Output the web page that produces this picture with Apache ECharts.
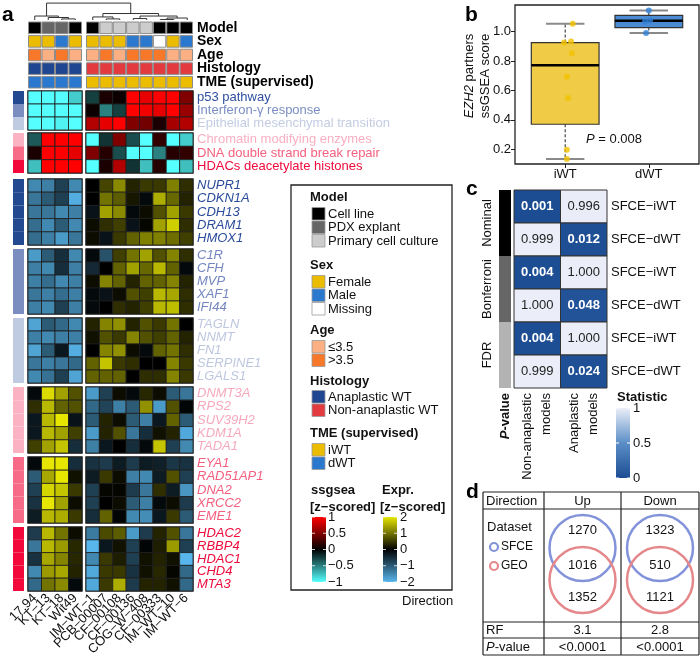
<!DOCTYPE html>
<html>
<head>
<meta charset="utf-8">
<script src="https://cdn.jsdelivr.net/npm/echarts@6.0.0/dist/echarts.min.js"></script>
<style>html,body{margin:0;padding:0;background:#fff;}#chart{width:700px;height:671px;}</style>
</head>
<body>
<div id="chart"></div>
<script>
const FONT = '"Liberation Sans", Arial, Helvetica, sans-serif';

/* ================= Panel a data ================= */
const leftSamples = ['17.94','KT−13','KT−18','Wit49'];
const rightSamples = ['IM−WT−1','PCB−00007','CF−00108','CF−00136','COG−W−408','CF−00333','IM−WT−10','IM−WT−6'];
const annoTracks = ['Model','Sex','Age','Histology','TME (supervised)'];
const modelLeft = ['Cell line','PDX explant','PDX explant','Cell line'];
const modelRight = ['Cell line','Primary cell culture','Primary cell culture','Primary cell culture','Primary cell culture','Cell line','Cell line','Cell line'];
const sexLeft = ['Female','Female','Male','Female'];
const sexRight = ['Female','Female','Female','Male','Male','Missing','Female','Male'];
const ageLeft = ['>3.5','≤3.5','>3.5','≤3.5'];
const ageRight = ['≤3.5','>3.5','≤3.5','>3.5','>3.5','>3.5','≤3.5','≤3.5'];
const histLeft = ['Anaplastic WT','Anaplastic WT','Anaplastic WT','Anaplastic WT'];
const histRight = ['Non-anaplastic WT','Non-anaplastic WT','Non-anaplastic WT','Non-anaplastic WT','Non-anaplastic WT','Non-anaplastic WT','Non-anaplastic WT','Non-anaplastic WT'];
const tmeLeft = ['dWT','dWT','dWT','dWT'];
const tmeRight = ['iWT','iWT','iWT','iWT','iWT','iWT','iWT','iWT'];

const pathwaysA = ['p53 pathway','Interferon-γ response','Epithelial mesenchymal transition'];
const pathwaysALeft = [[-1,-1,-1,-0.8],[-1,-1,-1,-1],[-1,-1,-0.95,-1]];
const pathwaysARight = [[-0.25,0.1,0.05,1,0.9,1,1,0.5],[0.05,-0.5,-0.25,1,0.95,0.9,1,0.6],[0.7,0.9,1,0.5,0.45,0.1,0.65,0.7]];
const pathwaysB = ['Chromatin modifying enzymes','DNA double strand break repair','HDACs deacetylate histones'];
const pathwaysBLeft = [[-0.35,1,1,1],[0.1,1,1,0.9],[-0.75,1,1,1]];
const pathwaysBRight = [[-1,-0.2,0.5,-0.3,-1,0.2,-1,-0.8],[0.5,0.15,-0.3,-1,-1,-0.5,0.15,0.2],[-1,0.1,0.7,-0.2,-0.75,0.15,-1,-0.75]];

const genes1 = ['NUPR1','CDKN1A','CDH13','DRAM1','HMOX1'];
const genes1Left = [[-1.5,-1.4,-0.7,-1.5],[-1.3,-1.0,-0.7,-1.9],[-1.3,-1.3,-1.5,-1.4],[-1.2,-1.5,-1.0,-1.5],[-1.2,-1.4,-1.7,-1.3]];
const genes1Right = [[0,0.6,1.2,0.3,0.5,0.5,1.1,0.4],[0,1.0,0.8,0.2,-0.1,1.5,0.9,0.3],[-0.2,1.4,1.2,-0.1,0.1,0.7,1.4,0.5],[0.1,0.4,0.55,-0.2,0.05,1.4,1.8,0.4],[0.1,-0.2,0.5,0.85,1.1,1.1,0.95,0.55]];
const genes2 = ['C1R','CFH','MVP','XAF1','IFI44'];
const genes2Left = [[-1.7,-1.0,-0.5,-1.5],[-1.4,-1.5,-0.5,-1.4],[-1.4,-1.2,-1.5,-1.4],[-1.3,-1.4,-1.2,-1.4],[-1.4,-1.5,-0.7,-1.4]];
const genes2Right = [[-0.1,-0.9,0.55,1.0,1.4,0.7,1.15,0.4],[-0.45,0,0.85,1.4,0.9,1.6,0.85,-0.1],[0.1,1.15,0.85,0.3,0.85,0.85,1.15,0.3],[-0.1,-0.2,0.1,0.7,0.55,1.6,1.45,0.4],[-0.1,0,0.4,0.3,0.55,1.6,1.65,0.4]];
const genes3 = ['TAGLN','NNMT','FN1','SERPINE1','LGALS1'];
const genes3Left = [[-1.8,-1.0,-1.15,-1.5],[-1.4,-1.5,-1.4,-1.4],[-1.8,-1.0,-0.25,-1.9],[-1.3,-1.4,-1.3,-1.15],[-1.5,-1.25,-0.7,-1.8]];
const genes3Right = [[0.3,1.15,1.25,0.3,0.7,0.5,1.0,0],[0.15,0.7,0.5,1.15,0.7,0.55,0.85,0.3],[0,1.15,1.25,0.1,-0.1,0.85,1.0,0.4],[0.85,1.7,0.5,0.4,0,0,1.15,0.5],[0.85,0.85,0.85,0,0.4,0.4,1.15,0.5]];
const genes4 = ['DNMT3A','RPS2','SUV39H2','KDM1A','TADA1'];
const genes4Left = [[-0.1,1.9,1.4,0.7],[0.4,1.6,0.85,0.7],[-0.25,1.6,2.0,-0.2],[-0.25,1.6,1.4,0.55],[0.55,1.4,1.7,-0.5]];
const genes4Right = [[-1.7,-0.7,0.1,-0.1,0.35,0.1,-1.0,-1.3],[-1.15,-0.75,-1.4,-1.0,1.25,-1.7,0.7,-0.05],[-1.0,0.3,0.1,-1.0,-1.4,-0.25,0.85,-1.0],[-1.7,0.3,0.7,-1.3,-0.5,0.15,0.3,-1.85],[-1.4,-0.25,0,-0.5,-0.1,1.7,-0.7,-1.5]];
const genes5 = ['EYA1','RAD51AP1','DNA2','XRCC2','EME1'];
const genes5Left = [[-0.1,2.0,2.0,-0.5],[-1.0,1.45,2.0,0.15],[-0.7,1.85,1.7,0.5],[-0.55,2.0,1.4,0.1],[-0.3,1.6,1.5,0.5]];
const genes5Right = [[-0.55,-0.65,-0.3,-0.65,-0.3,-0.35,-0.6,-0.55],[-0.3,0.5,0.1,-1.4,-1.5,-0.3,0.7,-0.7],[-0.7,0.05,0.05,-0.65,-1.3,0.4,-0.3,-1.65],[-0.7,0,0.1,-1.0,-1.4,-0.1,0.1,-0.65],[-0.5,0.85,-0.05,-1.5,-1.55,-0.25,0.5,-1.0]];
const genes6 = ['HDAC2','RBBP4','HDAC1','CHD4','MTA3'];
const genes6Left = [[-0.65,1.6,1.0,0.1],[-1.3,1.6,1.35,0.35],[-0.55,1.45,1.15,0.35],[-1.5,1.35,1.45,0.3],[-1.15,1.0,1.2,-0.1]];
const genes6Right = [[-1.35,0.65,0.8,-1.7,-0.65,0.3,0.7,-1.3],[-2.0,-0.25,0.15,-0.7,-0.05,0.25,1.35,-0.7],[-1.5,0.5,0.25,-0.7,0.15,0.3,0.15,-2.0],[-1.85,0.5,0.5,-0.55,0.15,0.35,0.05,-1.15],[-1.85,0.5,1.5,-0.65,0.3,0.3,0.15,-1.15]];

// hierarchical clustering of columns: [childA, childB, height]; negative = leaf (1-based), positive = earlier merge (1-based)
const dendroMerges = [[-3,-4,0.06],[-2,1,0.14],[-1,2,0.22],[-6,-7,0.06],[-5,4,0.17],[-8,-9,0.08],[-10,-11,0.03],[7,-12,0.11],[6,8,0.22],[5,9,0.36],[3,10,0.94]];

const ssTicks = [1, 0.5, 0, -0.5, -1];
const exTicks = [2, 1, 0, -1, -2];

/* ================= Panel b data ================= */
const tmeGroups = ['iWT','dWT'];
const iwtScores = [1.052,0.925,0.932,0.853,0.692,0.549,0.197,0.134];
const iwtJitter = [1.09,0.986,1.07,1.08,1.02,1.034,1.02,1.02];
const dwtScores = [1.143,1.068,1.075,0.989];
const dwtJitter = [2.0,1.955,2.015,1.967];
const boxStats = [[0.134,0.37,0.771,0.925,1.052],[0.989,1.027,1.073,1.109,1.143]];
const bTicks = [0.2,0.4,0.6,0.8,1.0];
const pText = '0.008';

/* ================= Panel c data ================= */
const cCols = ['Non-anaplastic\nmodels','Anaplastic\nmodels'];
const cMethods = ['Nominal','Bonferroni','FDR'];
const cComparisons = ['SFCE−iWT','SFCE−dWT'];
const cPvals = [[0.001,0.996],[0.999,0.012],[0.004,1.000],[1.000,0.048],[0.004,1.000],[0.999,0.024]];
const statTicks = [1, 0.5, 0];

/* ================= Panel d data ================= */
const dDirections = ['Up','Down'];
const dDatasets = ['SFCE','GEO'];
const vennCounts = [[1270,1016,1352],[1323,510,1121]];
const rfValues = ['3.1','2.8'];
const dPvalues = ['<0.0001','<0.0001'];

/* ================= helpers ================= */
function hex(c){ return [1,3,5].map(i => parseInt(c.substr(i,2),16)); }
function lerp(stops, v){
  if (v <= stops[0][0]) return stops[0][1];
  const n = stops.length;
  if (v >= stops[n-1][0]) return stops[n-1][1];
  for (let i=0;i<n-1;i++){
    const a=stops[i][0], b=stops[i+1][0];
    if (v>=a && v<=b){
      const t=(v-a)/(b-a), pa=hex(stops[i][1]), pb=hex(stops[i+1][1]);
      return 'rgb(' + pa.map((x,k)=>Math.round(x+(pb[k]-x)*t)).join(',') + ')';
    }
  }
  return stops[0][1];
}
const ssStops = [[-1,'#55FFFF'],[0,'#000000'],[1,'#FF0000']];
const exStops = [[-2,'#58B6EC'],[0,'#000000'],[2,'#E6E600']];
const stStops = [[0,'#1C4D93'],[0.5,'#5B8EC7'],[1,'#EBEEF8']];
const annoColors = {
  'Cell line':'#000000','PDX explant':'#666666','Primary cell culture':'#CCCCCC',
  'Female':'#EBBC00','Male':'#2B78CF','Missing':'#FFFFFF',
  '≤3.5':'#FBB083','>3.5':'#F8782A',
  'Anaplastic WT':'#1F4690','Non-anaplastic WT':'#E23A3F',
  'iWT':'#EBBC00','dWT':'#2B78CF'
};

function txt(x, y, text, st, align, rot){
  align = align || 'left';
  return {type:'text', x:x, y:y, rotation: rot || 0, z:50,
    style: Object.assign({text:text, fill:'#111', fontFamily:FONT, fontSize:13, align:align, textAlign:align, verticalAlign:'middle', textVerticalAlign:'middle'}, st || {})};
}

const option = {animation:false, backgroundColor:'#fff', textStyle:{fontFamily:FONT}, grid:[], xAxis:[], yAxis:[], series:[], graphic:{elements:[]}};
const G = option.graphic.elements;
function addGrid(g, xa, ya){
  option.grid.push(Object.assign({containLabel:false, outerBoundsMode:'none'}, g));
  const gi = option.grid.length - 1;
  option.xAxis.push(Object.assign({gridIndex:gi}, xa));
  option.yAxis.push(Object.assign({gridIndex:gi}, ya));
  return gi;
}
const noAxis = {axisLine:{show:false}, axisTick:{show:false}, axisLabel:{show:false}, splitLine:{show:false}};

/* ================= Panel a layout ================= */
const COLL = {left:28, width:54}, COLR = {left:86, width:107};
const blocks = [
  {kind:'anno', top:21, height:68, rows:annoTracks, left:[modelLeft,sexLeft,ageLeft,histLeft,tmeLeft], right:[modelRight,sexRight,ageRight,histRight,tmeRight]},
  {kind:'ss', top:91, height:39, rows:pathwaysA, left:pathwaysALeft, right:pathwaysARight, labelColors:['#2F4F9F','#7A8DC4','#C3CCE2'], barColors:['#234A91','#7B8EBF','#BFCBE1']},
  {kind:'ss', top:133, height:40, rows:pathwaysB, left:pathwaysBLeft, right:pathwaysBRight, labelColors:['#F9AFC1','#F4607F','#EE0A3B'], barColors:['#FBB3C4','#F76B88','#F2083B']},
  {kind:'gene', top:179, height:66, rows:genes1, left:genes1Left, right:genes1Right, labelColor:'#2A4B9B', barColor:'#234A91'},
  {kind:'gene', top:249, height:65, rows:genes2, left:genes2Left, right:genes2Right, labelColor:'#7386BF', barColor:'#7B8EBF'},
  {kind:'gene', top:318, height:65, rows:genes3, left:genes3Left, right:genes3Right, labelColor:'#BDC7DF', barColor:'#BFCBE1'},
  {kind:'gene', top:387, height:66, rows:genes4, left:genes4Left, right:genes4Right, labelColor:'#F6A9BD', barColor:'#FBB3C4'},
  {kind:'gene', top:457, height:66, rows:genes5, left:genes5Left, right:genes5Right, labelColor:'#F45E7F', barColor:'#F76B88'},
  {kind:'gene', top:527, height:64, rows:genes6, left:genes6Left, right:genes6Right, labelColor:'#EE0A3B', barColor:'#F2083B'}
];

blocks.forEach((b, bi) => {
  const last = bi === blocks.length - 1;
  [['L', COLL, leftSamples], ['R', COLR, rightSamples]].forEach(([side, pos, samples]) => {
    const xa = {type:'category', data:samples, axisLine:{show:false}, axisTick:{show:false}, splitLine:{show:false},
      axisLabel: last ? {show:true, rotate:45, interval:0, fontSize:13, color:'#111', margin:5, fontFamily:FONT} : {show:false}};
    const ya = {type:'category', data:b.rows, inverse:true, axisLine:{show:false}, axisTick:{show:false}, splitLine:{show:false}, axisLabel:{show:false}};
    if (side === 'R') {
      ya.position = 'right';
      ya.axisLabel = {show:true, margin:4, interval:0, fontFamily:FONT,
        fontSize: b.kind === 'anno' ? 14 : 13,
        fontWeight: b.kind === 'anno' ? 'bold' : 'normal',
        fontStyle: b.kind === 'gene' ? 'italic' : 'normal',
        color: b.kind === 'anno' ? '#000' : (b.kind === 'ss' ? (v => b.labelColors[b.rows.indexOf(v)]) : b.labelColor)};
    }
    const gi = addGrid({left:pos.left, width:pos.width, top:b.top, height:b.height, show: b.kind !== 'anno', borderColor:'#3a3a3a', borderWidth:1.5}, xa, ya);
    const mat = side === 'L' ? b.left : b.right;
    if (b.kind === 'anno') {
      const data = [], cols = [];
      mat.forEach((row, r) => row.forEach((v, c) => { data.push([c, r]); cols.push(annoColors[v]); }));
      option.series.push({type:'custom', xAxisIndex:gi, yAxisIndex:gi, clip:false, data:data,
        renderItem:(p, api) => {
          const c = api.coord([api.value(0), api.value(1)]), s = api.size([1,1]);
          return {type:'rect', shape:{x:c[0]-s[0]/2+0.5, y:c[1]-s[1]/2+1, width:s[0]-1, height:s[1]-2}, style:{fill:cols[p.dataIndex], stroke:'#8c8c8c', lineWidth:1}};
        }});
    } else {
      const stops = b.kind === 'ss' ? ssStops : exStops;
      const data = [];
      mat.forEach((row, r) => row.forEach((v, c) => data.push([c, r, v])));
      option.series.push({type:'custom', xAxisIndex:gi, yAxisIndex:gi, clip:false, data:data,
        renderItem:(p, api) => {
          const c = api.coord([api.value(0), api.value(1)]), s = api.size([1,1]);
          return {type:'rect', shape:{x:c[0]-s[0]/2, y:c[1]-s[1]/2, width:s[0], height:s[1]}, style:{fill:lerp(stops, api.value(2)), stroke:'#1c1c1c', lineWidth:0.8}};
        }});
      if (side === 'L') {
        const bc = b.kind === 'ss' ? b.barColors : b.rows.map(() => b.barColor);
        option.series.push({type:'custom', xAxisIndex:gi, yAxisIndex:gi, clip:false, data:b.rows.map((_, r) => [0, r]),
          renderItem:(p, api) => {
            const c = api.coord([0, api.value(1)]), s = api.size([1,1]);
            return {type:'rect', shape:{x:c[0]-s[0]/2-15, y:c[1]-s[1]/2, width:11, height:s[1]}, style:{fill:bc[p.dataIndex]}};
          }});
      }
    }
  });
});

/* dendrogram */
const colUnit = COLL.width / leftSamples.length;
const gapUnits = (COLR.left - COLL.left - COLL.width) / colUnit;
const dgWidth = COLR.left + COLR.width - COLL.left;
function leafX(k){ const nL = leftSamples.length; return k <= nL ? k - 0.5 : nL + gapUnits + (k - nL) - 0.5; }
const nodeX = [], nodeH = [], segs = [];
function childPos(id){ return id < 0 ? [leafX(-id), 0] : [nodeX[id-1], nodeH[id-1]]; }
dendroMerges.forEach(([a, b, h], i) => {
  const [xa, ha] = childPos(a), [xb, hb] = childPos(b);
  segs.push([xa, ha, xa, h], [xb, hb, xb, h], [xa, h, xb, h]);
  nodeX[i] = (xa + xb) / 2; nodeH[i] = h;
});
const dg = addGrid({left:COLL.left, top:2, width:dgWidth, height:18},
  Object.assign({type:'value', min:0, max:dgWidth/colUnit}, noAxis), Object.assign({type:'value', min:0, max:1}, noAxis));
option.series.push({type:'custom', xAxisIndex:dg, yAxisIndex:dg, clip:false, data:segs,
  renderItem:(p, api) => {
    const a = api.coord([api.value(0), api.value(1)]), b = api.coord([api.value(2), api.value(3)]);
    return {type:'line', shape:{x1:a[0], y1:a[1], x2:b[0], y2:b[1]}, style:{stroke:'#333', lineWidth:1}};
  }});

/* legend box (panel a) */
G.push({type:'rect', z:40, shape:{x:291, y:185, width:161, height:405}, style:{fill:'none', stroke:'#222', lineWidth:1.3}});
const legendGroups = [
  {title:'Model', items:['Cell line','PDX explant','Primary cell culture'], ty:197, iy:214},
  {title:'Sex', items:['Female','Male','Missing'], ty:265, iy:282},
  {title:'Age', items:['≤3.5','>3.5'], ty:330, iy:347},
  {title:'Histology', items:['Anaplastic WT','Non-anaplastic WT'], ty:381, iy:397},
  {title:'TME (supervised)', items:['iWT','dWT'], ty:433, iy:450}
];
legendGroups.forEach(gr => {
  G.push(txt(310, gr.ty, gr.title, {fontWeight:'bold', fontSize:13}));
  gr.items.forEach((it, k) => {
    const y = gr.iy + k * 13.5;
    G.push({type:'rect', z:40, shape:{x:312, y:y-6.5, width:13, height:12.5}, style:{fill:annoColors[it], stroke:'#9a9a9a', lineWidth:0.8}});
    G.push(txt(328, y, it, {fontSize:13}));
  });
});
function colorbar(x, y, w, h, colors, ticks, labelX){
  G.push({type:'rect', z:40, shape:{x:x, y:y, width:w, height:h},
    style:{fill:new echarts.graphic.LinearGradient(0,0,0,1, colors.map((c,i)=>({offset:i/(colors.length-1), color:c})))}});
  const tmax = ticks[0], tmin = ticks[ticks.length-1];
  ticks.forEach(t => {
    const ty = y + h * (tmax - t) / (tmax - tmin);
    G.push({type:'line', z:41, shape:{x1:x, y1:ty, x2:x+3, y2:ty}, style:{stroke:'#fff', lineWidth:1, opacity:0.8}});
    G.push({type:'line', z:41, shape:{x1:x+w-3, y1:ty, x2:x+w, y2:ty}, style:{stroke:'#fff', lineWidth:1, opacity:0.8}});
    G.push(txt(labelX, ty, String(t).replace('-', '−'), {fontSize:13}));
  });
}
G.push(txt(311, 490, 'ssgsea', {fontWeight:'bold', fontSize:13}));
G.push(txt(310, 507, '[z−scored]', {fontWeight:'bold', fontSize:13}));
G.push(txt(382, 490, 'Expr.', {fontWeight:'bold', fontSize:13}));
G.push(txt(380, 507, '[z−scored]', {fontWeight:'bold', fontSize:13}));
colorbar(312, 517, 14, 65, ['#FF0000','#000000','#55FFFF'], ssTicks, 328);
colorbar(383, 517, 14, 65, ['#E6E600','#000000','#58B6EC'], exTicks, 400);
G.push(txt(402, 601, 'Direction', {fontSize:13}));

/* panel letters */
G.push(txt(2, 15, 'a', {fontWeight:'bold', fontSize:21, fill:'#000'}));
G.push(txt(465, 15, 'b', {fontWeight:'bold', fontSize:21, fill:'#000'}));
G.push(txt(466, 189, 'c', {fontWeight:'bold', fontSize:21, fill:'#000'}));
G.push(txt(466, 492, 'd', {fontWeight:'bold', fontSize:21, fill:'#000'}));

/* ================= Panel b ================= */
const bg = addGrid({left:515, top:5, width:184, height:159, show:true, borderColor:'#222', borderWidth:1.3},
  {type:'value', min:0.4, max:2.6, splitLine:{show:false}, axisLine:{show:false},
   axisTick:{show:true, customValues:[1,2], length:4, lineStyle:{color:'#222'}},
   axisLabel:{customValues:[1,2], formatter:v => tmeGroups[Math.round(v)-1], fontSize:13, color:'#111', margin:4, fontFamily:FONT}},
  {type:'value', min:0.1, max:1.18, splitLine:{show:false}, axisLine:{show:false},
   axisTick:{show:true, customValues:bTicks, length:4, lineStyle:{color:'#222'}},
   axisLabel:{customValues:bTicks, formatter:v => v.toFixed(1), fontSize:13, color:'#111', margin:4, fontFamily:FONT}});
const boxFill = ['#EFCB46','#4A8BD3'];
option.series.push({type:'custom', xAxisIndex:bg, yAxisIndex:bg, clip:false, z:2,
  data: boxStats.map((s, i) => [i+1].concat(s)),
  renderItem:(p, api) => {
    const x = api.value(0);
    const v = [1,2,3,4,5].map(i => api.value(i));
    const cx = api.coord([x, v[2]])[0];
    const yMin = api.coord([x, v[0]])[1], yQ1 = api.coord([x, v[1]])[1], yMed = api.coord([x, v[2]])[1], yQ3 = api.coord([x, v[3]])[1], yMax = api.coord([x, v[4]])[1];
    const half = api.size([0.405, 0])[0], cap = api.size([0.23, 0])[0];
    return {type:'group', children:[
      {type:'line', shape:{x1:cx, y1:yQ3, x2:cx, y2:yMax}, style:{stroke:'#222', lineWidth:1, lineDash:[3,2]}},
      {type:'line', shape:{x1:cx, y1:yQ1, x2:cx, y2:yMin}, style:{stroke:'#222', lineWidth:1, lineDash:[3,2]}},
      {type:'line', shape:{x1:cx-cap, y1:yMax, x2:cx+cap, y2:yMax}, style:{stroke:'#8a8a8a', lineWidth:2}},
      {type:'line', shape:{x1:cx-cap, y1:yMin, x2:cx+cap, y2:yMin}, style:{stroke:'#8a8a8a', lineWidth:2}},
      {type:'rect', shape:{x:cx-half, y:yQ3, width:2*half, height:yQ1-yQ3}, style:{fill:boxFill[p.dataIndex], stroke:'#333', lineWidth:1.2}},
      {type:'line', shape:{x1:cx-half, y1:yMed, x2:cx+half, y2:yMed}, style:{stroke:'#000', lineWidth:2.5}}
    ]};
  }});
option.series.push({type:'scatter', xAxisIndex:bg, yAxisIndex:bg, z:5, symbolSize:6, itemStyle:{color:'#F2C200'},
  data: iwtScores.map((s, i) => [iwtJitter[i], s])});
option.series.push({type:'scatter', xAxisIndex:bg, yAxisIndex:bg, z:5, symbolSize:6, itemStyle:{color:'#2F80D8'},
  data: dwtScores.map((s, i) => [dwtJitter[i], s])});
G.push(txt(586, 139, '{i|P} = ' + pText, {fontSize:13, rich:{i:{fontStyle:'italic', fontSize:13, fontFamily:FONT, fill:'#111'}}}));
G.push(txt(469, 76, '{i|EZH2} partners', {fontSize:13, rich:{i:{fontStyle:'italic', fontSize:13, fontFamily:FONT, fill:'#111'}}}, 'center', Math.PI/2));
G.push(txt(485, 76, 'ssGSEA score', {fontSize:13}, 'center', Math.PI/2));

/* ================= Panel c ================= */
const cRows = [];
cMethods.forEach(m => cComparisons.forEach(c => cRows.push(m + '|' + c)));
const cg = addGrid({left:514, top:190, width:93, height:198},
  {type:'category', data:cCols, axisLine:{show:false}, axisTick:{show:false}, splitLine:{show:false},
   axisLabel:{rotate:90, interval:0, fontSize:13, lineHeight:19, margin:5, color:'#111', fontFamily:FONT}},
  {type:'category', data:cRows, inverse:true, position:'right', axisLine:{show:false}, axisTick:{show:false}, splitLine:{show:false},
   axisLabel:{interval:0, fontSize:13, margin:4, color:'#111', fontFamily:FONT, formatter:v => v.split('|')[1]}});
const cData = [];
cPvals.forEach((row, r) => row.forEach((v, c) => cData.push([c, r, v])));
option.series.push({type:'custom', xAxisIndex:cg, yAxisIndex:cg, clip:false, data:cData,
  renderItem:(p, api) => {
    const v = api.value(2);
    const c = api.coord([api.value(0), api.value(1)]), s = api.size([1,1]);
    const dark = v < 0.5;
    return {type:'group', children:[
      {type:'rect', shape:{x:c[0]-s[0]/2, y:c[1]-s[1]/2, width:s[0], height:s[1]}, style:{fill:lerp(stStops, v), stroke:'#333', lineWidth:1}},
      {type:'text', x:c[0], y:c[1], style:{text:v.toFixed(3), fill:dark ? '#fff' : '#222', fontSize:13, fontWeight:dark ? 'bold' : 'normal', fontFamily:FONT, align:'center', verticalAlign:'middle'}}
    ]};
  }});
const methodColors = ['#000000','#666666','#B3B3B3'];
option.series.push({type:'custom', xAxisIndex:cg, yAxisIndex:cg, clip:false,
  data: cMethods.map((m, i) => [0, i * cComparisons.length]),
  renderItem:(p, api) => {
    const n = cComparisons.length, i = p.dataIndex;
    const top = api.coord([0, i*n]), bot = api.coord([0, i*n + n - 1]), s = api.size([1,1]);
    const x0 = top[0] - s[0]/2, y0 = top[1] - s[1]/2, y1 = bot[1] + s[1]/2;
    return {type:'group', children:[
      {type:'rect', shape:{x:x0-15, y:y0, width:12, height:y1-y0}, style:{fill:methodColors[i]}},
      {type:'text', x:x0-27, y:(y0+y1)/2, rotation:Math.PI/2, style:{text:cMethods[i], fill:'#111', fontSize:13, fontFamily:FONT, align:'center', verticalAlign:'middle'}}
    ]};
  }});
G.push(txt(505, 393, '{i|P}-value', {fontSize:13, fontWeight:'bold', rich:{i:{fontStyle:'italic', fontWeight:'bold', fontSize:13, fontFamily:FONT, fill:'#111'}}}, 'right', Math.PI/2));
G.push(txt(617, 397, 'Statistic', {fontWeight:'bold', fontSize:13}));
G.push({type:'rect', z:40, shape:{x:616, y:408, width:14, height:70},
  style:{fill:new echarts.graphic.LinearGradient(0,0,0,1,[{offset:0,color:stStops[2][1]},{offset:0.5,color:stStops[1][1]},{offset:1,color:stStops[0][1]}])}});
statTicks.forEach(t => {
  const ty = 408 + 70 * (1 - t);
  G.push({type:'line', z:41, shape:{x1:616, y1:ty, x2:619, y2:ty}, style:{stroke:'#fff', lineWidth:1}});
  G.push({type:'line', z:41, shape:{x1:627, y1:ty, x2:630, y2:ty}, style:{stroke:'#fff', lineWidth:1}});
  G.push(txt(633, ty, String(t), {fontSize:13}));
});

/* ================= Panel d ================= */
const TL = 483, TR = 699, TT = 492, TB = 655;
const colX = [TL, 544, 621, TR];
const rowY = [TT, 509, 622, 638, TB];
rowY.forEach(y => G.push({type:'line', z:40, shape:{x1:TL, y1:y, x2:TR, y2:y}, style:{stroke:'#222', lineWidth:1.2}}));
colX.forEach(x => G.push({type:'line', z:40, shape:{x1:x, y1:TT, x2:x, y2:TB}, style:{stroke:'#222', lineWidth:1.2}}));
const vennBlue = '#8393DA', vennPink = '#E5888B';
G.push(txt(486, 501, 'Direction', {fontSize:13}));
G.push(txt(487, 527, 'Dataset', {fontSize:13}));
[vennBlue, vennPink].forEach((col, k) => {
  const y = 547 + k * 19;
  G.push({type:'circle', z:40, shape:{cx:494, cy:y, r:4}, style:{fill:'none', stroke:col, lineWidth:2.2}});
  G.push(txt(501, y, dDatasets[k], {fontSize:12}));
});
dDirections.forEach((d, i) => {
  const cx = (colX[i+1] + colX[i+2]) / 2;
  G.push(txt(cx, 501, d, {fontSize:13}, 'center'));
  G.push({type:'circle', z:40, shape:{cx:cx, cy:548, r:33}, style:{fill:'none', stroke:vennBlue, lineWidth:2.5}});
  G.push({type:'circle', z:40, shape:{cx:cx, cy:580, r:33}, style:{fill:'none', stroke:vennPink, lineWidth:2.5}});
  [530, 565, 597].forEach((y, k) => G.push(txt(cx, y, String(vennCounts[i][k]), {fontSize:13}, 'center')));
  G.push(txt(cx, 630, rfValues[i], {fontSize:13}, 'center'));
  G.push(txt(cx, 647, dPvalues[i], {fontSize:13}, 'center'));
});
G.push(txt(486, 630, 'RF', {fontSize:13}));
G.push(txt(486, 647, '{i|P}-value', {fontSize:13, rich:{i:{fontStyle:'italic', fontSize:13, fontFamily:FONT, fill:'#111'}}}));

const chart = echarts.init(document.getElementById('chart'), null, {renderer:'canvas', width:700, height:671});
chart.setOption(option);
</script>
</body>
</html>
